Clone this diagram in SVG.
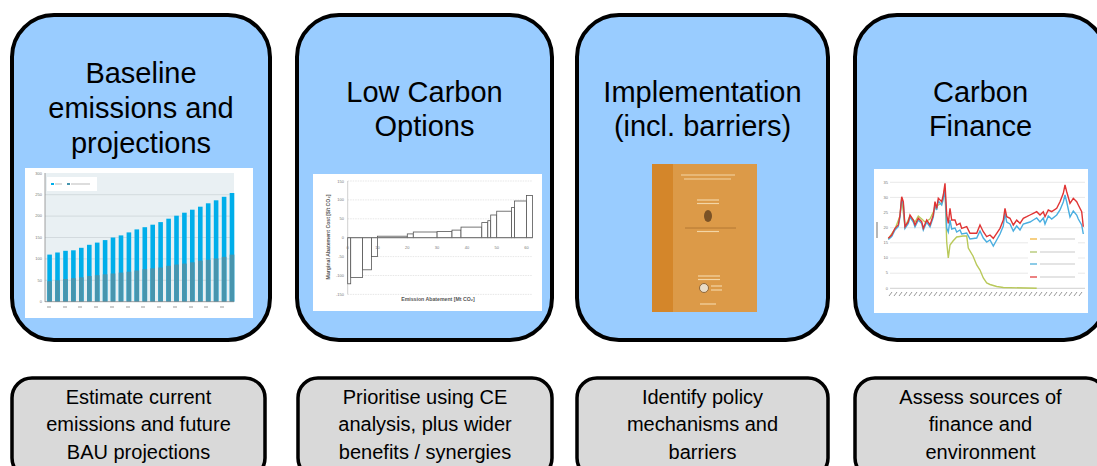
<svg xmlns="http://www.w3.org/2000/svg" width="1097" height="466" viewBox="0 0 1097 466">
<style>
.box{fill:#99ccff;stroke:#000;stroke-width:4}
.sub{fill:#d9d9d9;stroke:#000;stroke-width:3.5}
.t{font-family:"Liberation Sans",Arial,sans-serif;font-size:29px;fill:#000;text-anchor:middle}
.s{font-family:"Liberation Sans",Arial,sans-serif;font-size:20px;fill:#000;text-anchor:middle}
.tick{font-family:"Liberation Sans",Arial,sans-serif;font-size:4px;fill:#777}
.grid{stroke:#cdd4d8;stroke-width:0.8}
.up{fill:#00aeea}
.lo{fill:#4795ae}
.mac{fill:#fff;stroke:#555;stroke-width:0.8}
.cg{stroke:#e0e0e0;stroke-width:0.7}
.bk{stroke:#f3d6a6;stroke-width:1.2}
</style>
<rect width="1097" height="466" fill="#fff"/>

<g id="node-baseline">
<rect class="box" x="12" y="15" width="258" height="325" rx="42"/>
<text class="t" x="141" y="83">Baseline</text>
<text class="t" x="141" y="118">emissions and</text>
<text class="t" x="141" y="153">projections</text>
<g id="chart-baseline">
<rect x="25" y="168" width="228" height="150" fill="#fff"/>
<rect x="45" y="173" width="189" height="129" fill="#e9f0f3"/>
<line class="grid" x1="45" y1="280.3" x2="234" y2="280.3"/>
<line class="grid" x1="45" y1="258.9" x2="234" y2="258.9"/>
<line class="grid" x1="45" y1="237.5" x2="234" y2="237.5"/>
<line class="grid" x1="45" y1="216.1" x2="234" y2="216.1"/>
<line class="grid" x1="45" y1="194.7" x2="234" y2="194.7"/>
<rect x="47" y="177" width="50" height="14" fill="#fff"/>
<rect x="51" y="183" width="3" height="2" fill="#00aeea"/>
<line x1="55" y1="184" x2="62" y2="184" stroke="#aaa" stroke-width="0.8"/>
<rect x="67" y="183" width="3" height="2" fill="#4795ae"/>
<line x1="71" y1="184" x2="90" y2="184" stroke="#aaa" stroke-width="0.8"/>
<g>
<rect class="up" x="47.3" y="254.6" width="4.6" height="47.1"/><rect class="lo" x="47.3" y="281.2" width="4.6" height="20.5"/>
<rect class="up" x="55.2" y="252.5" width="4.6" height="49.2"/><rect class="lo" x="55.2" y="280.3" width="4.6" height="21.4"/>
<rect class="up" x="63.2" y="250.8" width="4.6" height="50.9"/><rect class="lo" x="63.2" y="279.0" width="4.6" height="22.7"/>
<rect class="up" x="71.1" y="250.3" width="4.6" height="51.4"/><rect class="lo" x="71.1" y="278.2" width="4.6" height="23.5"/>
<rect class="up" x="79.0" y="247.8" width="4.6" height="53.9"/><rect class="lo" x="79.0" y="277.3" width="4.6" height="24.4"/>
<rect class="up" x="87.0" y="244.8" width="4.6" height="56.9"/><rect class="lo" x="87.0" y="276.0" width="4.6" height="25.7"/>
<rect class="up" x="94.9" y="242.6" width="4.6" height="59.1"/><rect class="lo" x="94.9" y="275.2" width="4.6" height="26.5"/>
<rect class="up" x="102.8" y="240.1" width="4.6" height="61.6"/><rect class="lo" x="102.8" y="274.3" width="4.6" height="27.4"/>
<rect class="up" x="110.7" y="237.5" width="4.6" height="64.2"/><rect class="lo" x="110.7" y="273.5" width="4.6" height="28.2"/>
<rect class="up" x="118.7" y="235.4" width="4.6" height="66.3"/><rect class="lo" x="118.7" y="272.6" width="4.6" height="29.1"/>
<rect class="up" x="126.6" y="232.4" width="4.6" height="69.3"/><rect class="lo" x="126.6" y="271.7" width="4.6" height="30.0"/>
<rect class="up" x="134.5" y="229.4" width="4.6" height="72.3"/><rect class="lo" x="134.5" y="270.5" width="4.6" height="31.2"/>
<rect class="up" x="142.5" y="227.2" width="4.6" height="74.5"/><rect class="lo" x="142.5" y="269.2" width="4.6" height="32.5"/>
<rect class="up" x="150.4" y="224.7" width="4.6" height="77.0"/><rect class="lo" x="150.4" y="268.3" width="4.6" height="33.4"/>
<rect class="up" x="158.3" y="222.1" width="4.6" height="79.6"/><rect class="lo" x="158.3" y="267.5" width="4.6" height="34.2"/>
<rect class="up" x="166.3" y="218.7" width="4.6" height="83.0"/><rect class="lo" x="166.3" y="265.8" width="4.6" height="35.9"/>
<rect class="up" x="174.2" y="215.7" width="4.6" height="86.0"/><rect class="lo" x="174.2" y="264.5" width="4.6" height="37.2"/>
<rect class="up" x="182.1" y="212.7" width="4.6" height="89.0"/><rect class="lo" x="182.1" y="263.6" width="4.6" height="38.1"/>
<rect class="up" x="190.0" y="209.7" width="4.6" height="92.0"/><rect class="lo" x="190.0" y="262.3" width="4.6" height="39.4"/>
<rect class="up" x="198.0" y="206.7" width="4.6" height="95.0"/><rect class="lo" x="198.0" y="260.6" width="4.6" height="41.1"/>
<rect class="up" x="205.9" y="203.3" width="4.6" height="98.4"/><rect class="lo" x="205.9" y="259.8" width="4.6" height="41.9"/>
<rect class="up" x="213.8" y="200.3" width="4.6" height="101.4"/><rect class="lo" x="213.8" y="258.5" width="4.6" height="43.2"/>
<rect class="up" x="221.8" y="196.8" width="4.6" height="104.9"/><rect class="lo" x="221.8" y="256.8" width="4.6" height="44.9"/>
<rect class="up" x="229.7" y="193.0" width="4.6" height="108.7"/><rect class="lo" x="229.7" y="254.6" width="4.6" height="47.1"/>
</g>
<line x1="45" y1="173" x2="45" y2="302" stroke="#888" stroke-width="0.8"/>
<line x1="45" y1="301.7" x2="234" y2="301.7" stroke="#888" stroke-width="0.8"/>
<text class="tick" x="42" y="303" text-anchor="end">0</text>
<text class="tick" x="42" y="281.6" text-anchor="end">50</text>
<text class="tick" x="42" y="260.2" text-anchor="end">100</text>
<text class="tick" x="42" y="238.8" text-anchor="end">150</text>
<text class="tick" x="42" y="217.4" text-anchor="end">200</text>
<text class="tick" x="42" y="196" text-anchor="end">250</text>
<text class="tick" x="42" y="174.6" text-anchor="end">300</text>
<path d="M47 307h4M63 307h4M78 307h4M94 307h4M110 307h4M126 307h4M141 307h4M157 307h4M173 307h4M189 307h4M204 307h4M220 307h4" stroke="#999" stroke-width="1"/>
</g>
</g>

<g id="node-lowcarbon">
<rect class="box" x="297" y="15" width="255" height="325" rx="42"/>
<text class="t" x="424.5" y="102">Low Carbon</text>
<text class="t" x="424.5" y="136">Options</text>
<g id="chart-macc">
<rect x="313" y="174" width="229" height="137" fill="#fff"/>
<g stroke="#ddd" stroke-width="0.7" stroke-dasharray="1.5,1">
<line x1="347.7" y1="181" x2="532.5" y2="181"/>
<line x1="347.7" y1="199.9" x2="532.5" y2="199.9"/>
<line x1="347.7" y1="218.8" x2="532.5" y2="218.8"/>
<line x1="347.7" y1="256.6" x2="532.5" y2="256.6"/>
<line x1="347.7" y1="275.5" x2="532.5" y2="275.5"/>
<line x1="347.7" y1="294.4" x2="532.5" y2="294.4"/>
</g>
<line x1="347.7" y1="181" x2="347.7" y2="294.4" stroke="#bbb" stroke-width="0.7"/>
<rect class="mac" x="347.7" y="237.7" width="3.0" height="46.1"/>
<rect class="mac" x="350.7" y="237.7" width="11.9" height="39.7"/>
<rect class="mac" x="362.6" y="237.7" width="8.9" height="32.1"/>
<rect class="mac" x="371.5" y="237.7" width="6.0" height="18.9"/>
<rect class="mac" x="377.5" y="236.2" width="29.8" height="1.5"/>
<rect class="mac" x="407.3" y="233.9" width="6.0" height="3.8"/>
<rect class="mac" x="413.3" y="232.0" width="23.8" height="5.7"/>
<rect class="mac" x="437.1" y="231.6" width="14.9" height="6.1"/>
<rect class="mac" x="452.0" y="230.1" width="9.0" height="7.6"/>
<rect class="mac" x="461.0" y="227.1" width="20.8" height="10.6"/>
<rect class="mac" x="481.8" y="222.6" width="6.0" height="15.1"/>
<rect class="mac" x="487.8" y="220.7" width="2.9" height="17.0"/>
<rect class="mac" x="490.7" y="215.0" width="6.0" height="22.7"/>
<rect class="mac" x="496.7" y="211.2" width="14.9" height="26.5"/>
<rect class="mac" x="511.6" y="207.5" width="3.0" height="30.2"/>
<rect class="mac" x="514.6" y="201.0" width="11.9" height="36.7"/>
<rect class="mac" x="526.5" y="195.4" width="6.0" height="42.3"/>
<line x1="347.7" y1="237.7" x2="532.5" y2="237.7" stroke="#777" stroke-width="0.8"/>
<g class="tick" text-anchor="end">
<text x="344" y="182.5">150</text>
<text x="344" y="201.4">100</text>
<text x="344" y="220.3">50</text>
<text x="344" y="239.2">0</text>
<text x="344" y="258.1">-50</text>
<text x="344" y="277">-100</text>
<text x="344" y="295.9">-150</text>
</g>
<g class="tick" text-anchor="middle">
<text x="347.7" y="249">0</text>
<text x="377.5" y="249">10</text>
<text x="407.3" y="249">20</text>
<text x="437.1" y="249">30</text>
<text x="466.9" y="249">40</text>
<text x="496.7" y="249">50</text>
<text x="526.5" y="249">60</text>
</g>
<text x="438" y="301" font-family="Liberation Sans, Arial, sans-serif" font-size="5.2" font-weight="bold" fill="#555" text-anchor="middle">Emission Abatement [Mt CO₂]</text>
<text x="0" y="0" transform="translate(330,237) rotate(-90)" font-family="Liberation Sans, Arial, sans-serif" font-size="5.2" font-weight="bold" fill="#555" text-anchor="middle">Marginal Abatement Cost [$/t CO₂]</text>
</g>
</g>

<g id="node-implementation">
<rect class="box" x="577" y="15" width="251" height="325" rx="42"/>
<text class="t" x="702.5" y="102">Implementation</text>
<text class="t" x="702.5" y="136">(incl. barriers)</text>
<g id="book">
<rect x="652" y="164" width="105" height="148" fill="#dc9a48"/>
<rect x="652" y="164" width="21" height="148" fill="#d4862a"/>
<line class="bk" x1="681" y1="175" x2="735" y2="175"/>
<line class="bk" x1="684" y1="179" x2="731" y2="179" stroke-width="0.8"/>
<line class="bk" x1="697" y1="200" x2="719" y2="200" stroke-width="0.8"/>
<line class="bk" x1="697" y1="203.5" x2="719" y2="203.5" stroke-width="0.8"/>
<ellipse cx="708" cy="216" rx="4" ry="6" fill="#7a5226"/>
<line x1="685" y1="228" x2="736" y2="228" stroke="#a8702e" stroke-width="0.8"/>
<line class="bk" x1="697" y1="231.5" x2="719" y2="231.5" stroke-width="0.8"/>
<line class="bk" x1="698" y1="276" x2="720" y2="276" stroke-width="0.8"/>
<line class="bk" x1="698" y1="279.5" x2="720" y2="279.5" stroke-width="0.8"/>
<circle cx="704" cy="288" r="4.5" fill="#e9dcc8" stroke="#7a5226" stroke-width="0.8"/>
<line class="bk" x1="711" y1="286" x2="722" y2="286" stroke-width="0.8"/>
<line class="bk" x1="711" y1="290" x2="722" y2="290" stroke-width="0.8"/>
<line class="bk" x1="700" y1="304" x2="716" y2="304" stroke-width="0.8"/>
</g>
</g>

<g id="node-carbonfinance">
<rect class="box" x="855" y="15" width="251" height="325" rx="42"/>
<text class="t" x="980.5" y="102">Carbon</text>
<text class="t" x="980.5" y="136">Finance</text>
<g id="chart-carbon">
<rect x="874" y="169" width="214" height="144" fill="#fff"/>
<line class="cg" x1="890" y1="182.3" x2="1085" y2="182.3"/>
<line class="cg" x1="890" y1="197.4" x2="1085" y2="197.4"/>
<line class="cg" x1="890" y1="212.5" x2="1085" y2="212.5"/>
<line class="cg" x1="890" y1="227.7" x2="1085" y2="227.7"/>
<line class="cg" x1="890" y1="242.8" x2="1085" y2="242.8"/>
<line class="cg" x1="890" y1="258" x2="1085" y2="258"/>
<line class="cg" x1="890" y1="273.2" x2="1085" y2="273.2"/>
<line x1="890" y1="288.3" x2="1085" y2="288.3" stroke="#bbb" stroke-width="0.7"/>
<g class="tick" text-anchor="end" font-size="3.5">
<text x="888" y="289.5">0</text>
<text x="888" y="274.4">5</text>
<text x="888" y="259.2">10</text>
<text x="888" y="244">15</text>
<text x="888" y="228.9">20</text>
<text x="888" y="213.7">25</text>
<text x="888" y="198.6">30</text>
<text x="888" y="183.5">35</text>
</g>
<line x1="877" y1="222" x2="877" y2="238" stroke="#888" stroke-width="1.2"/>
<polyline fill="none" stroke="#b9c95a" stroke-width="1.4" points="888.3,239 895,229 900,216 901.7,198 905,227 910,216 915,222 918.3,216 921.7,219 925,222 930,219 933.3,212 936.7,206 941.7,203 943.3,197 945,188 946.7,242 948.3,258 950,245 953,241 956.7,237 963,236 966.7,236 968.3,248 973,256 976.7,265 980,270 983.3,278 986.7,283 990,284.5 996.7,286.5 1003.3,287.5 1036.7,288.3"/>
<polyline fill="none" stroke="#4aaee0" stroke-width="1.4" points="888.3,239.5 891.7,236.5 895,230 898.3,226.5 900,217 901.7,199 903.3,204 905,228.5 908.3,223.5 910,217 913.3,222 915,227 918.3,220 921.7,223.5 923.3,230 926.7,222 930,227 933.3,217 935,204 936.7,210 938.3,201 941.7,205 943.3,199 945,190 946.7,228 948.3,232 950,220 951.7,229 955,228 956.7,232 960,230 961.7,234 966.7,233 970,239 976.7,238 980,231 983.3,238 986.7,242 990,240 993.3,246 996.7,240 1000,234 1003.3,226 1005,213 1006.7,222 1010,224 1013.3,231 1016.7,226 1020,230 1023.3,224 1026.7,223 1030,222 1033.3,220 1036.7,218 1040,222 1043.3,218 1045,224 1048.3,216 1051.7,219 1056.7,215 1060,210 1063.3,202 1065,195 1066.7,202 1070,217 1073.3,211 1076.7,215 1078.3,219 1081.7,225 1083.3,234"/>
<polyline fill="none" stroke="#e03434" stroke-width="1.4" points="888.3,238.3 891.7,235 895,228.3 898.3,225 900,215 901.7,196.7 903.3,201.7 905,226.7 908.3,221.7 910,215 913.3,220 915,225 918.3,218.3 921.7,221.7 923.3,228.3 926.7,220 930,225 933.3,215 935,201.7 936.7,208.3 938.3,198.3 941.7,201.7 943.3,195 945,183.3 946.7,215 948.3,223.3 950,208.3 951.7,220 955,220 956.7,225 960,223.3 961.7,228.3 966.7,226.7 970,233.3 976.7,233.3 980,225 983.3,231.7 986.7,236.7 990,235 993.3,238.3 996.7,233.3 1000,228.3 1003.3,220 1005,208.3 1006.7,216.7 1010,218.3 1013.3,225 1016.7,220 1020,223.3 1023.3,218.3 1026.7,216.7 1030,215 1033.3,213.3 1036.7,211.7 1040,215 1043.3,211.7 1045,216.7 1048.3,210 1051.7,211.7 1056.7,208.3 1060,201.7 1063.3,193.3 1065,185 1066.7,191.7 1070,203.3 1073.3,198.3 1076.7,201.7 1078.3,205 1081.7,211.7 1083.3,226.7"/>
<rect x="1028" y="235" width="50" height="46" fill="#fff"/>
<line x1="1030" y1="239" x2="1037" y2="239" stroke="#f0b030" stroke-width="1.2"/>
<line x1="1040" y1="239" x2="1075" y2="239" stroke="#bbb" stroke-width="0.8"/>
<line x1="1030" y1="252" x2="1037" y2="252" stroke="#a8c060" stroke-width="1.2"/>
<line x1="1040" y1="252" x2="1075" y2="252" stroke="#bbb" stroke-width="0.8"/>
<line x1="1030" y1="264" x2="1037" y2="264" stroke="#40a8d8" stroke-width="1.2"/>
<line x1="1040" y1="264" x2="1075" y2="264" stroke="#bbb" stroke-width="0.8"/>
<line x1="1030" y1="277" x2="1037" y2="277" stroke="#e03030" stroke-width="1.2"/>
<line x1="1040" y1="277" x2="1075" y2="277" stroke="#bbb" stroke-width="0.8"/>
<path d="M889 296l3-4M894 296l3-4M899 296l3-4M904 296l3-4M909 296l3-4M914 296l3-4M919 296l3-4M924 296l3-4M929 296l3-4M934 296l3-4M939 296l3-4M944 296l3-4M949 296l3-4M954 296l3-4M959 296l3-4M964 296l3-4M969 296l3-4M974 296l3-4M979 296l3-4M984 296l3-4M989 296l3-4M994 296l3-4M999 296l3-4M1004 296l3-4M1009 296l3-4M1014 296l3-4M1019 296l3-4M1024 296l3-4M1029 296l3-4M1034 296l3-4M1039 296l3-4M1044 296l3-4M1049 296l3-4M1054 296l3-4M1059 296l3-4M1064 296l3-4M1069 296l3-4M1074 296l3-4M1079 296l3-4" stroke="#999" stroke-width="1"/>
</g>
</g>

<g id="node-estimate">
<rect class="sub" x="12" y="378" width="253" height="100" rx="20"/>
<text class="s" x="138.5" y="404">Estimate current</text>
<text class="s" x="138.5" y="431">emissions and future</text>
<text class="s" x="138.5" y="459">BAU projections</text>
</g>
<g id="node-prioritise">
<rect class="sub" x="298" y="378" width="254" height="100" rx="20"/>
<text class="s" x="425" y="404">Prioritise using CE</text>
<text class="s" x="425" y="431">analysis, plus wider</text>
<text class="s" x="425" y="459">benefits / synergies</text>
</g>
<g id="node-identify">
<rect class="sub" x="577" y="378" width="251" height="100" rx="20"/>
<text class="s" x="702.5" y="404">Identify policy</text>
<text class="s" x="702.5" y="431">mechanisms and</text>
<text class="s" x="702.5" y="459">barriers</text>
</g>
<g id="node-assess">
<rect class="sub" x="855" y="378" width="251" height="100" rx="20"/>
<text class="s" x="980.5" y="404">Assess sources of</text>
<text class="s" x="980.5" y="431">finance and</text>
<text class="s" x="980.5" y="459">environment</text>
</g>

<g id="connectors"></g>
</svg>
